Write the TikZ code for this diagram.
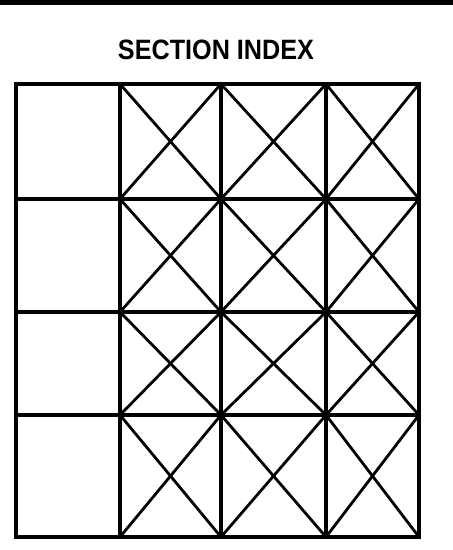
\documentclass[tikz,border=0pt]{standalone}
\usepackage{fontspec}
\setsansfont{Liberation Sans}
\begin{document}
\begin{tikzpicture}[
  x=1pt, y=-1pt,
  topbar/.style={line width=4.5pt},
  gridline/.style={line width=3.2pt, line cap=rect},
  crossline/.style={line width=2.8pt},
  heading/.style={font=\sffamily\bfseries\fontsize{28}{30}\selectfont, inner sep=0pt},
]
\useasboundingbox (0,0) rectangle (453,550);

% ========= Top rule =========
\coordinate (bar-l) at (0,2.5);
\coordinate (bar-r) at (453,2.5);
\draw[topbar] (bar-l) -- (bar-r);

% ========= Title =========
\node[heading] at (216,50) (title) {\scalebox{0.9}[1]{SECTION INDEX}};

% ========= Grid corners =========
\foreach \c/\x in {0/16,1/120,2/221,3/326,4/419}
  \foreach \r/\y in {0/84,1/199,2/312,3/415,4/537}
    \coordinate (g-\c-\r) at (\x,\y);

% ========= Crosses (columns 2-4) =========
\foreach \c in {1,2,3}
  \foreach \r in {0,1,2,3} {
    \pgfmathtruncatemacro{\cn}{\c+1}
    \pgfmathtruncatemacro{\rn}{\r+1}
    \draw[crossline] (g-\c-\r) -- (g-\cn-\rn);
    \draw[crossline] (g-\cn-\r) -- (g-\c-\rn);
  }

% ========= Grid lines =========
\foreach \r in {0,...,4}
  \draw[gridline] (g-0-\r) -- (g-4-\r);
\foreach \c in {0,...,4}
  \draw[gridline] (g-\c-0) -- (g-\c-4);

\end{tikzpicture}
\end{document}
